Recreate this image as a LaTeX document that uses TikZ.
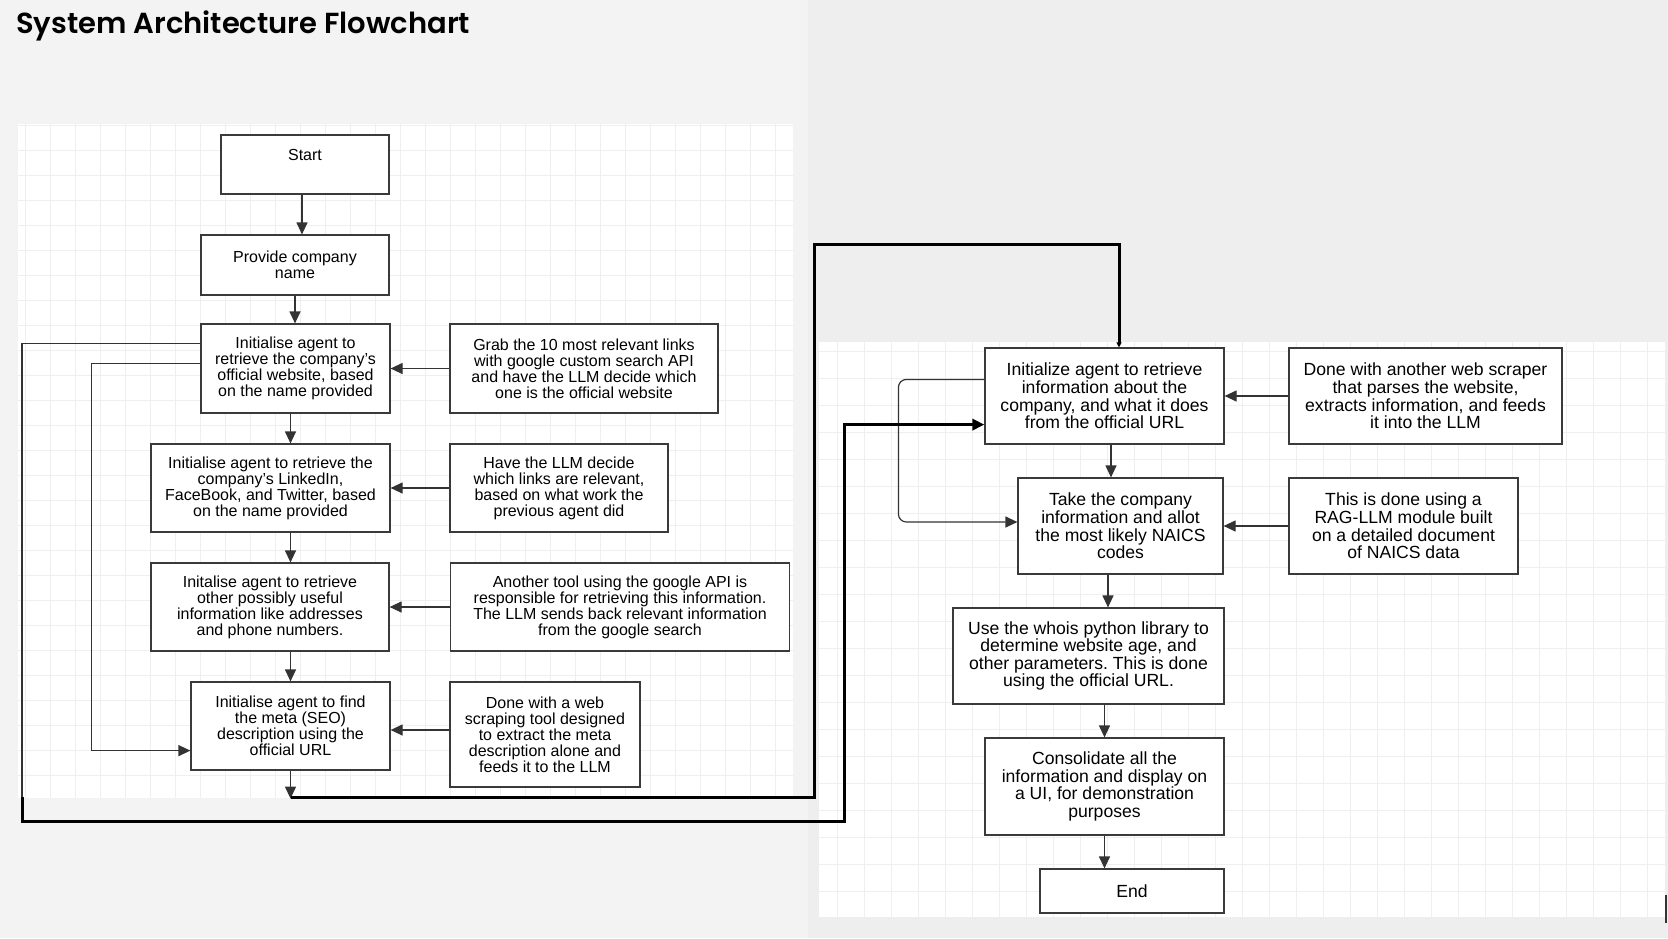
\documentclass[tikz,border=0pt]{standalone}
\usepackage{fontspec}
\setmainfont{Liberation Sans}
\newfontfamily\titlefont{Poppins SemiBold}
\usepackage{xcolor}
\usetikzlibrary{arrows.meta}
\definecolor{pagegray}{HTML}{F3F3F3}
\definecolor{pagegrayb}{HTML}{EEEEEE}
\definecolor{gridgray}{HTML}{EFEFEF}
\definecolor{boxline}{HTML}{3A3A3A}
\frenchspacing

\begin{document}
\begin{tikzpicture}[x=1pt,y=-1pt,
 b/.style={draw=boxline,line width=1.2pt,fill=white,align=center,inner sep=2pt,font=\fontsize{16}{16}\selectfont},
 r/.style={b,font=\fontsize{17.6}{17.6}\selectfont},
 ar/.style={draw=black!80,line width=1.2pt,-{Triangle[length=12pt,width=11pt]}},
 lk/.style={line width=3pt,black}]
\useasboundingbox (0,0) rectangle (1668,938);
\fill[pagegray] (0,0) rectangle (808,938);
\fill[pagegrayb] (808,0) rectangle (1668,938);
\fill[white] (18,124) rectangle (793,798);
\fill[white] (819,342) rectangle (1665,917);
\draw[gridgray,line width=0.7pt,step=25pt] (18,124) grid (793,798);
\draw[gridgray,line width=0.7pt,step=27pt] (819,342) grid (1665,917);
\node[anchor=base west,inner sep=0pt,font=\titlefont\fontsize{29}{30}\selectfont] (title) at (16,33) {System Architecture Flowchart};

\node[b,minimum width=168pt,minimum height=59pt,text height=19pt,text depth=28pt,inner ysep=6pt] (start) at (305,164.5) {Start};
\node[b,minimum width=188pt,minimum height=60pt] (prov) at (295,265) {Provide company\\name};
\node[b,minimum width=189pt,minimum height=89pt] (init1) at (295.5,368.5) {Initialise agent to\\retrieve the company's\\official website, based\\on the name provided};
\node[b,minimum width=268pt,minimum height=89pt] (grab) at (584,368.5) {Grab the 10 most relevant links\\with google custom search API\\and have the LLM decide which\\one is the official website};
\node[b,minimum width=239pt,minimum height=88pt] (init2) at (270.5,488) {Initialise agent to retrieve the\\company's LinkedIn,\\FaceBook, and Twitter, based\\on the name provided};
\node[b,minimum width=218pt,minimum height=88pt] (llm) at (559,488) {Have the LLM decide\\which links are relevant,\\based on what work the\\previous agent did};
\node[b,minimum width=238pt,minimum height=88pt] (init3) at (270,607) {Initalise agent to retrieve\\other possibly useful\\information like addresses\\and phone numbers.};
\node[b,minimum width=339pt,minimum height=88pt] (tool) at (620,607) {Another tool using the google API is\\responsible for retrieving this information.\\The LLM sends back relevant information\\from the google search};
\node[b,minimum width=199pt,minimum height=88pt] (init4) at (290.5,726) {Initialise agent to find\\the meta (SEO)\\description using the\\official URL};
\node[b,minimum width=190pt,minimum height=105pt] (web) at (545,734.5) {Done with a web\\scraping tool designed\\to extract the meta\\description alone and\\feeds it to the LLM};

\node[r,minimum width=239pt,minimum height=96pt] (initR) at (1104.5,396) {Initialize agent to retrieve\\information about the\\company, and what it does\\from the official URL};
\node[r,minimum width=273pt,minimum height=96pt] (scrape) at (1425.5,396) {Done with another web scraper\\that parses the website,\\extracts information, and feeds\\it into the LLM};
\node[r,minimum width=205pt,minimum height=96pt] (naics) at (1120.5,526) {Take the company\\information and allot\\the most likely NAICS\\codes};
\node[r,minimum width=229pt,minimum height=96pt] (rag) at (1403.5,526) {This is done using a\\RAG-LLM module built\\on a detailed document\\of NAICS data};
\node[r,minimum width=271pt,minimum height=96pt] (whois) at (1088.5,656) {Use the whois python library to\\determine website age, and\\other parameters. This is done\\using the official URL.};
\node[r,minimum width=239pt,minimum height=97pt] (cons) at (1104.5,786.5) {Consolidate all the\\information and display on\\a UI, for demonstration\\purposes};
\node[r,minimum width=184pt,minimum height=44pt] (fin) at (1132,891) {End};

\draw[ar] ([xshift=-3pt]start.south) -- ([xshift=-3pt]start.south |- prov.north);
\draw[ar] (prov.south) -- (prov.south |- init1.north);
\draw[ar] (init1.south -| init4.north) -- (init2.north -| init4.north);
\draw[ar] (init2.south -| init4.north) -- (init3.north -| init4.north);
\draw[ar] (init3.south -| init4.north) -- (init4.north);
\draw[ar] (init4.south) -- ++(0,28);
\draw[ar] (grab.west) -- (init1.east);
\draw[ar] (llm.west) -- (init2.east);
\draw[ar] (tool.west) -- (init3.east);
\draw[ar] ([yshift=4.5pt]web.west) -- ([yshift=4.5pt]web.west -| init4.east);
\draw[ar] ([yshift=-40pt]init1.north west) -- ++(-109,0) |- ([yshift=20pt]init4.south west);
\draw[draw=black!80,line width=1.2pt] ([yshift=-20pt]init1.north west) -| (22,798);

\draw[ar] ([xshift=6.5pt]initR.south) -- ([xshift=6.5pt]initR.south |- naics.north);
\draw[ar] ([xshift=-12.5pt]naics.south) -- ([xshift=-12.5pt]naics.south |- whois.north);
\draw[ar] (cons.north |- whois.south) -- (cons.north);
\draw[ar] (cons.south) -- (cons.south |- fin.north);
\draw[ar] (scrape.west) -- (initR.east);
\draw[ar] (rag.west) -- (naics.east);
\draw[ar,rounded corners=8pt] ([yshift=-32pt]initR.north west) -- ++(-86,0) |- ([yshift=4pt]naics.west);

\draw[lk,-{Triangle[length=5pt,width=5pt]}] ([yshift=-27pt]init4.south) -| (814,244) -| ([xshift=14.5pt]initR.north);
\draw[lk,-{Triangle[length=12pt,width=11pt]}] (22,797) |- (844,821) |- ([yshift=20pt]initR.south west);
\draw[line width=2pt,black!80] (1666,895) -- (1666,923);
\end{tikzpicture}
\end{document}
